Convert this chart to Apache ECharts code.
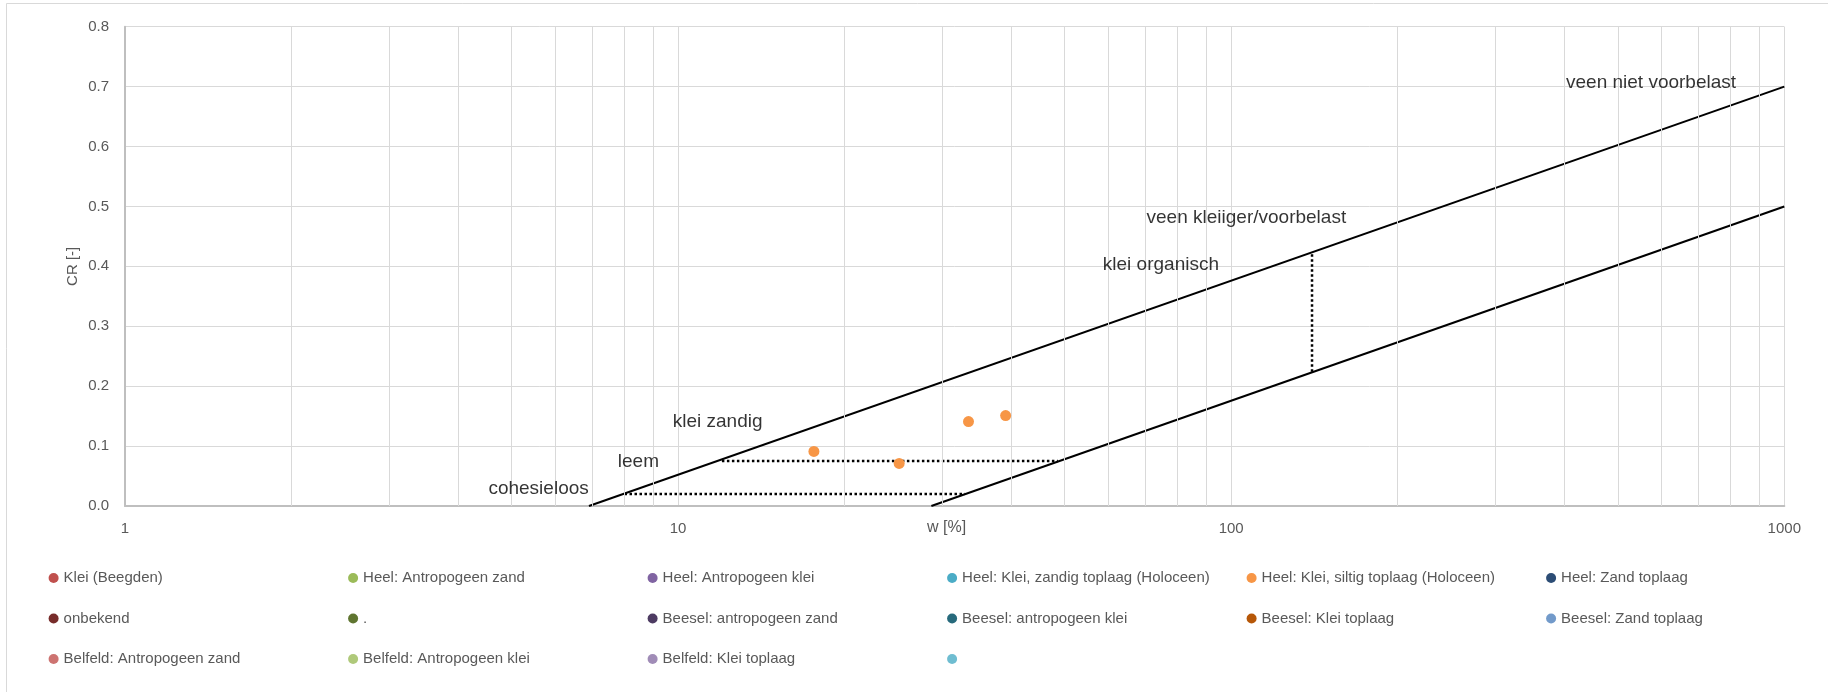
<!DOCTYPE html>
<html>
<head>
<meta charset="utf-8">
<script src="https://cdn.jsdelivr.net/npm/echarts@6/dist/echarts.min.js"></script>
<style>
html,body{margin:0;padding:0;background:#fff;}
#chart{width:1828px;height:692px;}
</style>
</head>
<body>
<div id="chart"></div>
<script>
// ---- data ----
var legendNames = [
  'Klei (Beegden)', 'Heel: Antropogeen zand', 'Heel: Antropogeen klei',
  'Heel: Klei, zandig toplaag (Holoceen)', 'Heel: Klei, siltig toplaag (Holoceen)', 'Heel: Zand toplaag',
  'onbekend', '.', 'Beesel: antropogeen zand',
  'Beesel: antropogeen klei', 'Beesel: Klei toplaag', 'Beesel: Zand toplaag',
  'Belfeld: Antropogeen zand', 'Belfeld: Antropogeen klei', 'Belfeld: Klei toplaag', ' '
];
var legendColors = [
  '#C0504D', '#9BBB59', '#8064A2', '#4BACC6', '#F79646', '#2C4D75',
  '#772C2A', '#5F7530', '#4D3B62', '#276A7C', '#B65708', '#729ACA',
  '#CD7371', '#AFC97A', '#A08CB7', '#6FBDD1'
];
// measured points (w [%], CR [-]) — only this series has visible data
var siltigPoints = [[17.6, 0.091], [25.1, 0.071], [33.5, 0.141], [39.1, 0.151]];

// classification boundary lines
var upperLine = [[6.9, 0], [1000, 0.70]];
var lowerLine = [[28.7, 0], [1000, 0.50]];
var cohesieloosLine = [[8.0, 0.02], [33, 0.02]];
var leemLine = [[12.0, 0.075], [48.6, 0.075]];
var organischLine = [[140, 0.42], [140, 0.22]];

// annotation labels (left edge, vertical centre in data units)
var annotText = ['veen niet voorbelast', 'veen kleiiger/voorbelast', 'klei organisch', 'klei zandig', 'leem', 'cohesieloos'];
var annotW    = [403, 70.3, 58.6, 9.78, 7.78, 4.54];
var annotCR   = [0.706, 0.481, 0.402, 0.140, 0.073, 0.028];

// axis ticks
var yTicks = { min: 0, max: 0.8, interval: 0.1 };
var xRange = { min: 1, max: 1000 };
var minorGridX = [2,3,4,5,6,7,8,9,20,30,40,50,60,70,80,90,200,300,400,500,600,700,800,900];

// ---- chart ----
var FONT = "'Liberation Sans', Arial, sans-serif";
var chart = echarts.init(document.getElementById('chart'));

var series = [];
series.push({
  type: 'line', name: '__minor', data: [], silent: true, z: 1,
  markLine: {
    silent: true, symbol: ['none', 'none'], label: { show: false },
    lineStyle: { color: '#d9d9d9', width: 1, type: 'solid' },
    emphasis: { disabled: true },
    animation: false,
    data: minorGridX.map(function (v) { return { xAxis: v }; })
  }
});
function lineSeries(data, dotted) {
  return {
    type: 'line', data: data, showSymbol: false, symbol: 'none', silent: true, z: 3,
    lineStyle: dotted ? { color: '#000', width: 2.5, type: [2.5, 2.5], cap: 'butt' } : { color: '#000', width: 2 },
    animation: false
  };
}
series.push(lineSeries(upperLine, false));
series.push(lineSeries(lowerLine, false));
series.push(lineSeries(cohesieloosLine, true));
series.push(lineSeries(leemLine, true));
series.push(lineSeries(organischLine, true));

legendNames.forEach(function (n, i) {
  series.push({
    type: 'scatter', name: n, symbol: 'circle', symbolSize: 11, z: 5,
    itemStyle: { color: legendColors[i], opacity: 1 },
    data: (i === 4) ? siltigPoints : [],
    animation: false
  });
});

series.push({
  type: 'scatter', symbolSize: 0, silent: true, z: 6,
  data: annotText.map(function (t, i) { return { name: t, value: [annotW[i], annotCR[i]] }; }),
  label: {
    show: true, position: 'right', distance: 0, formatter: '{b}',
    color: '#000', fontSize: 19, fontFamily: FONT, align: 'left', verticalAlign: 'middle'
  },
  animation: false
});

chart.setOption({
  backgroundColor: '#fff',
  animation: false,
  graphic: [{
    type: 'rect', shape: { x: 6.5, y: 3.5, width: 1840, height: 700 },
    style: { fill: 'none', stroke: '#d9d9d9', lineWidth: 1 }, silent: true, z: -10
  }],
  grid: { left: 125, right: 43.7, top: 26.7, bottom: 186, containLabel: false },
  xAxis: {
    type: 'log', logBase: 10, min: xRange.min, max: xRange.max,
    name: 'w [%]', nameLocation: 'middle', nameGap: 14, nameMoveOverlap: false,
    nameTextStyle: { fontSize: 16, color: '#595959', fontFamily: FONT, padding: [0, 16, 0, 0] },
    axisLine: { show: true, lineStyle: { color: '#bfbfbf', width: 2 } },
    axisTick: { show: false },
    axisLabel: { margin: 15, fontSize: 15, color: '#595959', fontFamily: FONT,
      formatter: function (v) { return String(Math.round(v)); } },
    splitLine: { show: true, lineStyle: { color: '#d9d9d9', width: 1 } },
    minorSplitLine: { show: false }
  },
  yAxis: {
    type: 'value', min: yTicks.min, max: yTicks.max, interval: yTicks.interval,
    name: 'CR [-]', nameLocation: 'middle', nameGap: 45, nameMoveOverlap: false,
    nameTextStyle: { fontSize: 15, color: '#595959', fontFamily: FONT },
    axisLine: { show: true, lineStyle: { color: '#bfbfbf', width: 2 } },
    axisTick: { show: false },
    axisLabel: { margin: 16, fontSize: 15, color: '#595959', fontFamily: FONT,
      formatter: function (v) { return v.toFixed(1); } },
    splitLine: { show: true, lineStyle: { color: '#d9d9d9', width: 1 } }
  },
  legend: {
    data: legendNames, left: 48.6, top: 568, width: 1790, padding: 0,
    orient: 'horizontal', icon: 'circle', itemWidth: 10, itemHeight: 10, itemGap: 20.5,
    selectedMode: false,
    itemStyle: { opacity: 1 },
    textStyle: { fontSize: 15, color: '#595959', fontFamily: FONT, width: 264, lineHeight: 20, overflow: 'none' }
  },
  series: series
});
</script>
</body>
</html>
